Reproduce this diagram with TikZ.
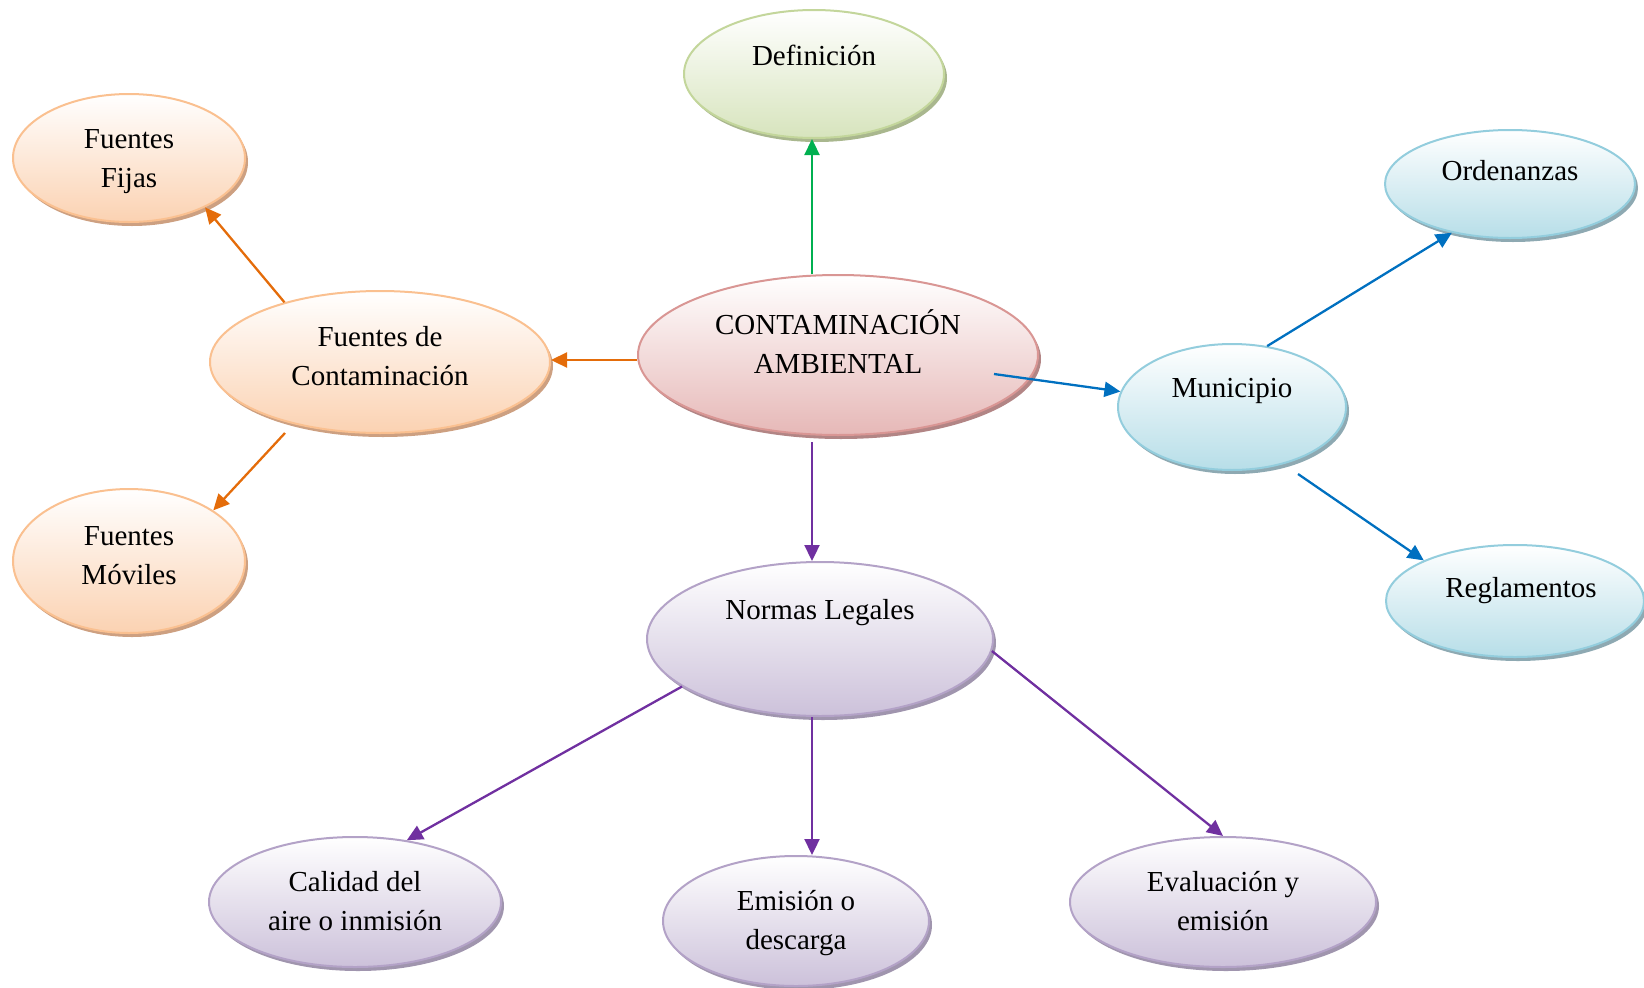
\documentclass[tikz,border=0pt]{standalone}
\usepackage{fontspec}
\setmainfont{Liberation Serif}
\usetikzlibrary{shapes.geometric,shadows,arrows.meta,calc}
\definecolor{rBor}{RGB}{217,150,148}\definecolor{rFil}{RGB}{230,184,183}\definecolor{rSh}{RGB}{170,120,120}
\definecolor{oBor}{RGB}{250,192,144}\definecolor{oFil}{RGB}{251,210,178}\definecolor{oSh}{RGB}{200,150,115}
\definecolor{gBor}{RGB}{195,214,155}\definecolor{gFil}{RGB}{215,228,189}\definecolor{gSh}{RGB}{160,175,130}
\definecolor{bBor}{RGB}{147,205,221}\definecolor{bFil}{RGB}{183,222,232}\definecolor{bSh}{RGB}{130,160,170}
\definecolor{pBor}{RGB}{179,162,199}\definecolor{pFil}{RGB}{204,193,218}\definecolor{pSh}{RGB}{150,138,165}
\definecolor{aGreen}{RGB}{0,176,80}\definecolor{aOrange}{RGB}{228,108,10}
\definecolor{aBlue}{RGB}{0,112,192}\definecolor{aPurple}{RGB}{112,48,160}
\tikzset{
  bub/.style n args={3}{ellipse, draw=#1, line width=2pt, top color=white, bottom color=#2,
    drop shadow={shadow xshift=3pt, shadow yshift=-4pt, fill=#3, opacity=0.9}, inner sep=0pt},
  txt/.style={align=center, font=\fontsize{29}{39}\selectfont, inner sep=0pt},
  arr/.style={line width=2.3pt, draw=#1, -{Triangle[length=16pt,width=15pt]}},
}
\begin{document}
\begin{tikzpicture}[x=1pt,y=1pt]
\useasboundingbox (0,0) rectangle (1644,-988);
% ellipses
\node[bub={gBor}{gFil}{gSh}, minimum width=260, minimum height=128] (def) at (814,-74) {};
\node[bub={rBor}{rFil}{rSh}, minimum width=400, minimum height=160] (cont) at (838,-355) {};
\node[bub={oBor}{oFil}{oSh}, minimum width=340, minimum height=142] (fc) at (380,-362) {};
\node[bub={oBor}{oFil}{oSh}, minimum width=232, minimum height=128] (fij) at (129,-158) {};
\node[bub={oBor}{oFil}{oSh}, minimum width=232, minimum height=144] (mov) at (129,-561) {};
\node[bub={bBor}{bFil}{bSh}, minimum width=228, minimum height=126] (mun) at (1232,-407) {};
\node[bub={bBor}{bFil}{bSh}, minimum width=250, minimum height=108] (ord) at (1510,-184) {};
\node[bub={bBor}{bFil}{bSh}, minimum width=258, minimum height=112] (reg) at (1515,-601) {};
\node[bub={pBor}{pFil}{pSh}, minimum width=346, minimum height=154] (norm) at (820,-639) {};
\node[bub={pBor}{pFil}{pSh}, minimum width=292, minimum height=130] (cal) at (355,-902) {};
\node[bub={pBor}{pFil}{pSh}, minimum width=266, minimum height=130] (emi) at (796,-921) {};
\node[bub={pBor}{pFil}{pSh}, minimum width=306, minimum height=130] (eva) at (1223,-902) {};
% texts
\node[txt] (defT) at (814,-55) {Definición};
\node[txt] (contT) at (838,-342) {CONTAMINACIÓN\\AMBIENTAL};
\node[txt] (fcT) at (380,-356) {Fuentes de\\Contaminación};
\node[txt] (fijT) at (129,-162) {Fuentes\\Fijas};
\node[txt] (movT) at (129,-556) {Fuentes\\Móviles};
\node[txt] (munT) at (1232,-391) {Municipio};
\node[txt] (ordT) at (1510,-171) {Ordenanzas};
\node[txt] (regT) at (1521,-591) {Reglamentos};
\node[txt] (normT) at (820,-613) {Normas Legales};
\node[txt] (calT) at (355,-901) {Calidad del\\aire o inmisión};
\node[txt] (emiT) at (796,-923) {Emisión o\\descarga};
\node[txt] (evaT) at (1223,-901) {Evaluación y\\emisión};
% connectors
\coordinate (vx) at (812,0);
\coordinate (hy) at (0,-360);
\coordinate (cstart) at ($(cont.center)+(156,-19)$);
\coordinate (fmstart) at ($(fc.center)+(-95,-71)$);
\coordinate (mrstart) at ($(mun.center)+(66,-67)$);
\draw[arr=aGreen] (cont.north -| vx) -- (def.south -| vx);
\draw[arr=aOrange] (cont.west |- hy) -- (fc.east |- hy);
\draw[arr=aOrange] (fc.148) -- (fij.-33);
\draw[arr=aOrange] (fmstart) -- (mov.31);
\draw[arr=aBlue] (cstart) -- (mun);
\draw[arr=aBlue] (mun.60) -- (ord.220);
\draw[arr=aBlue] (mrstart) -- (reg.156);
\draw[arr=aPurple] ($(cont.south -| vx)+(0,-6)$) -- (norm.north -| vx);
\draw[arr=aPurple] (norm.199) -- (cal.50);
\draw[arr=aPurple] (norm.south -| vx) -- (emi.north -| vx);
\draw[arr=aPurple] (norm.-4) -- (eva.north);
\end{tikzpicture}
\end{document}
